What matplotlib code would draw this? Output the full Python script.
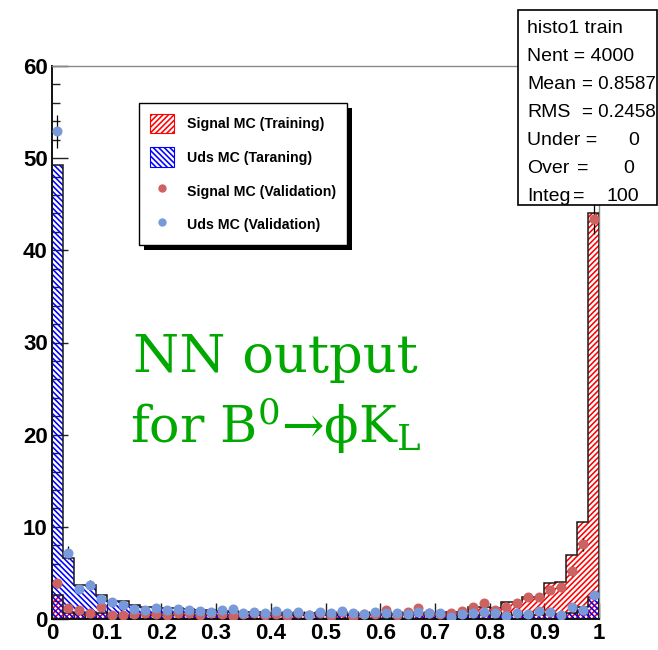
import numpy as np
import matplotlib
matplotlib.use("Agg")
import matplotlib.pyplot as plt
from matplotlib.patches import Patch, Rectangle
from matplotlib.lines import Line2D
from matplotlib.ticker import MultipleLocator, FuncFormatter

# ---- histogram content (50 bins on [0, 1], normalised to 100) ----
bin_edges = np.linspace(0.0, 1.0, 51)

signal_train = [2.6, 0.7, 0.5, 0.5, 0.6, 0.4, 0.4, 0.4, 0.4, 0.4,
                0.4, 0.4, 0.4, 0.4, 0.4, 0.4, 0.4, 0.4, 0.4, 0.4,
                0.4, 0.4, 0.4, 0.4, 0.4, 0.4, 0.5, 0.5, 0.5, 0.5,
                0.5, 0.5, 0.6, 0.6, 0.6, 0.7, 0.8, 0.8, 1.3, 1.3,
                1.2, 1.8, 1.8, 2.4, 2.4, 3.9, 4.0, 6.9, 10.5, 44.0]

uds_train = [49.3, 6.6, 3.7, 3.7, 2.6, 2.0, 1.9, 1.5, 1.3, 1.3,
             1.2, 1.2, 1.1, 1.0, 1.0, 0.9, 0.9, 0.8, 0.8, 0.7,
             0.7, 0.7, 0.6, 0.6, 0.6, 0.5, 0.5, 0.5, 0.5, 0.5,
             0.5, 0.5, 0.5, 0.5, 0.5, 0.5, 0.5, 0.4, 0.4, 0.4,
             0.4, 0.4, 0.4, 0.4, 0.4, 0.5, 0.5, 0.6, 1.3, 2.4]

signal_valid = [3.9, 1.2, 1.0, 0.65, 1.3, 0.4, 0.4, 0.5, 0.7, 0.5,
                0.4, 0.6, 0.7, 0.4, 0.7, 0.5, 0.3, 0.5, 0.6, 0.4,
                0.5, 0.3, 0.6, 0.4, 0.7, 0.3, 0.8, 0.2, 0.5, 0.5,
                1.0, 0.4, 0.8, 1.2, 0.6, 0.5, 0.6, 0.9, 1.3, 1.7,
                1.0, 1.3, 1.7, 2.4, 2.4, 3.1, 3.5, 5.2, 8.1, 43.4]

uds_valid = [52.9, 7.2, 3.3, 3.7, 2.2, 1.8, 1.5, 1.1, 1.0, 1.2,
             1.0, 1.1, 1.0, 0.9, 0.8, 1.0, 1.1, 0.6, 0.8, 0.7,
             0.9, 0.7, 0.8, 0.4, 0.8, 0.6, 0.9, 0.7, 0.5, 0.8,
             0.6, 0.7, 0.5, 0.8, 0.6, 0.7, 0.2, 0.5, 0.6, 0.8,
             0.7, 0.3, 0.6, 0.5, 0.9, 0.8, 0.4, 1.3, 1.0, 2.6]

legend_labels = ["Signal MC (Training)", "Uds MC (Taraning)",
                 "Signal MC (Validation)", "Uds MC (Validation)"]

stats_title = "histo1 train"
stats_nent = 4000
stats_mean = 0.8587
stats_rms = 0.2458
stats_under = 0
stats_over = 0
stats_integ = 100

# ---- style ----
W, H = 658, 650
plt.rcParams["hatch.linewidth"] = 1.15
sans = ["Liberation Sans", "DejaVu Sans"]
red_pt = "#cc6262"
blue_pt = "#789ada"
green_txt = "#00a800"
sig_hatch = "//////"
uds_hatch = "\\\\\\\\\\\\"

fig = plt.figure(figsize=(W / 100, H / 100), dpi=100)
fig.patch.set_facecolor("white")
ax = fig.add_axes([52 / W, 31 / H, 547 / W, 553 / H])
ax.set_facecolor("white")

centers = 0.5 * (bin_edges[:-1] + bin_edges[1:])
widths = np.diff(bin_edges)

# hatched training histograms (transparent fill so both remain visible)
ax.bar(centers, signal_train, width=widths, facecolor="none", edgecolor="#ff0000",
       hatch=sig_hatch, linewidth=0, zorder=2)
ax.bar(centers, uds_train, width=widths, facecolor="none", edgecolor="#0000ff",
       hatch=uds_hatch, linewidth=0, zorder=2.1)
ax.stairs(signal_train, bin_edges, color="#1a1a1a", linewidth=1.1, zorder=3)
ax.stairs(uds_train, bin_edges, color="#1a1a1a", linewidth=1.1, zorder=3)

# validation samples with statistical uncertainties
sig_v = np.asarray(signal_valid)
uds_v = np.asarray(uds_valid)
ax.errorbar(centers, sig_v, yerr=0.25 * np.sqrt(sig_v), fmt="o", color=red_pt,
            ecolor="black", elinewidth=0.9, markersize=6.2, capsize=0, zorder=4)
ax.errorbar(centers, uds_v, yerr=0.25 * np.sqrt(uds_v), fmt="o", color=blue_pt,
            ecolor="black", elinewidth=0.9, markersize=6.2, capsize=0, zorder=4.2)

# ---- axes ----
ax.set_xlim(0, 1)
ax.set_ylim(0, 60)
ax.xaxis.set_major_locator(MultipleLocator(0.1))
ax.xaxis.set_minor_locator(MultipleLocator(0.02))
ax.yaxis.set_major_locator(MultipleLocator(10))
ax.yaxis.set_minor_locator(MultipleLocator(2))
ax.xaxis.set_major_formatter(FuncFormatter(lambda v, p: f"{v:g}"))
ax.yaxis.set_major_formatter(FuncFormatter(lambda v, p: f"{v:g}"))
ax.tick_params(which="both", direction="in", top=False, right=False, color="#222222")
ax.tick_params(which="major", length=11.5, width=1.0, pad=3)
ax.tick_params(which="minor", length=5.8, width=1.0)
for lab in ax.get_xticklabels() + ax.get_yticklabels():
    lab.set_fontfamily(sans)
    lab.set_fontweight("bold")
    lab.set_fontsize(16)
for side in ("left", "bottom"):
    ax.spines[side].set_color("#111111")
    ax.spines[side].set_linewidth(1.4)
for side in ("top", "right"):
    ax.spines[side].set_color("#8a8a8a")
    ax.spines[side].set_linewidth(1.0)

# ---- annotation ----
ax.text(0.148, 0.4467, "NN output", transform=ax.transAxes, color=green_txt,
        fontsize=38, family="DejaVu Serif", va="baseline", ha="left", zorder=6)
ax.text(0.1426, 0.318, "for B$^{0}$\u2192\u03d5K$_{\\mathrm{L}}$", transform=ax.transAxes,
        color=green_txt, fontsize=36.5, family="DejaVu Serif", math_fontfamily="dejavuserif",
        va="baseline", ha="left", zorder=6)

# ---- legend ----
handles = [
    Patch(facecolor="white", edgecolor="#ff0000", hatch=sig_hatch, linewidth=0.8),
    Patch(facecolor="white", edgecolor="#0000ff", hatch=uds_hatch, linewidth=0.8),
    Line2D([], [], marker="o", ls="none", color=red_pt, markersize=5),
    Line2D([], [], marker="o", ls="none", color=blue_pt, markersize=5),
]
leg = ax.legend(handles, legend_labels, loc="upper left",
                bbox_to_anchor=(139 / W, 1 - 103 / H), bbox_transform=fig.transFigure,
                borderaxespad=0, prop={"family": sans, "weight": "bold", "size": 10.2},
                frameon=True, fancybox=False, framealpha=1, edgecolor="black",
                handlelength=1.7, handleheight=1.75, handletextpad=0.95,
                labelspacing=1.0, borderpad=0.75)
leg.get_frame().set_linewidth(1.0)
leg.set_zorder(8)

fig.canvas.draw()
bb = leg.get_window_extent()
inv = ax.transAxes.inverted()
(sx0, sy0), (sx1, sy1) = inv.transform([(bb.x0 + 5, bb.y0 - 5), (bb.x1 + 5, bb.y1 - 5)])
ax.add_patch(Rectangle((sx0, sy0), sx1 - sx0, sy1 - sy0, transform=ax.transAxes,
                       facecolor="black", edgecolor="none", zorder=7.9, clip_on=False))

# ---- statistics box ----
box_x0, box_x1, box_top, box_bot = 518, 657, 10, 205
fig.add_artist(Rectangle((box_x0 / W, 1 - box_bot / H), (box_x1 - box_x0) / W,
                         (box_bot - box_top) / H, transform=fig.transFigure,
                         facecolor="white", edgecolor="black", linewidth=1.2, zorder=10))


def stat_text(x, y, s, ha="left", size=14):
    fig.text(x / W, 1 - y / H, s, ha=ha, va="baseline", fontsize=size,
             family=sans, color="black", zorder=11)


stat_text(527, 33, stats_title)
stat_text(527, 61, f"Nent = {stats_nent}")
stat_text(527, 89, "Mean")
stat_text(582, 89, f"= {stats_mean:.4f}", size=13.5)
stat_text(527, 117, "RMS")
stat_text(582, 117, f"= {stats_rms:.4f}", size=13.5)
stat_text(527, 145, "Under =")
stat_text(639, 145, f"{stats_under}", ha="right")
stat_text(527, 173, "Over")
stat_text(577, 173, "=")
stat_text(634, 173, f"{stats_over}", ha="right")
stat_text(527, 201, "Integ")
stat_text(573, 201, "=")
stat_text(639, 201, f"{stats_integ}", ha="right")

fig.savefig("out.png", dpi=100, facecolor="white")
